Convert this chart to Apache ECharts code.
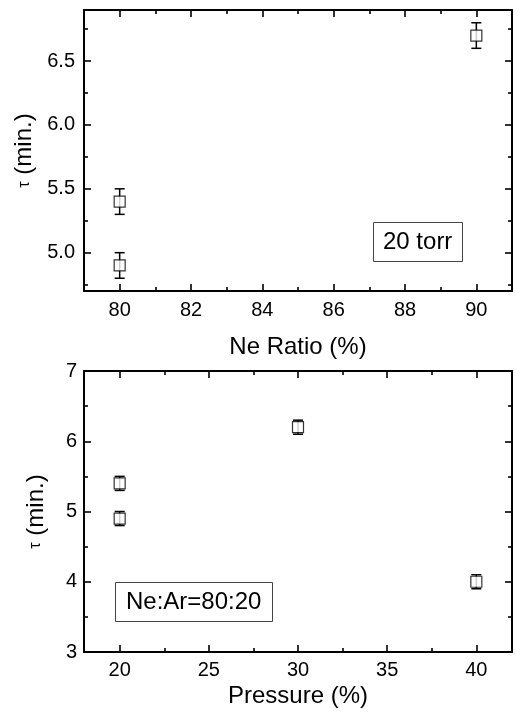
<!DOCTYPE html>
<html>
<head>
<meta charset="utf-8">
<script src="https://cdn.jsdelivr.net/npm/echarts@6/dist/echarts.min.js"></script>
<style>
html, body { margin: 0; padding: 0; background: #fff; }
#show_charts { width: 515px; height: 718px; }
</style>
</head>
<body>
<div id="show_charts"></div>
<script>
// top panel: tau vs Ne ratio (20 torr)
var neRatio = [80, 80, 90];
var tauNe = [5.4, 4.9, 6.7];
var errNe = [0.1, 0.1, 0.1];
var neTicks = [80, 82, 84, 86, 88, 90];
var neMinor = [81, 83, 85, 87, 89];
var tauNeTicks = [5.0, 5.5, 6.0, 6.5];
var tauNeMinor = [4.75, 5.25, 5.75, 6.25, 6.75];

// bottom panel: tau vs pressure (Ne:Ar=80:20)
var pressure = [20, 20, 30, 40];
var tauP = [5.4, 4.9, 6.2, 4.0];
var errP = [0.1, 0.1, 0.1, 0.1];
var pTicks = [20, 25, 30, 35, 40];
var pMinor = [22.5, 27.5, 32.5, 37.5];
var tauPTicks = [3, 4, 5, 6, 7];
var tauPMinor = [3.5, 4.5, 5.5, 6.5];

var font = '"Liberation Sans", Arial, sans-serif';
var lineStyle = { color: '#000', width: 2 };

function makeAxis(grid, pos, min, max, ticks, len, opts) {
    var ax = {
        type: 'value',
        gridIndex: grid,
        position: pos,
        min: min,
        max: max,
        splitLine: { show: false },
        axisLine: { show: !opts.minor, onZero: false, lineStyle: lineStyle },
        axisTick: { show: true, inside: true, length: len, customValues: ticks, lineStyle: { color: '#000', width: 1.6 } },
        axisLabel: { show: false }
    };
    if (opts.labels) {
        ax.axisLabel = {
            show: true,
            customValues: ticks,
            fontSize: 20,
            fontFamily: font,
            color: '#000',
            margin: opts.margin || 8,
            formatter: opts.fmt
        };
    }
    if (opts.name) {
        ax.name = opts.name;
        ax.nameLocation = 'middle';
        ax.nameGap = opts.nameGap;
        ax.nameTextStyle = {
            fontSize: 24, fontFamily: font, color: '#000',
            rich: { t: { fontSize: 16, fontFamily: font, color: '#000' } }
        };
    }
    return ax;
}

function errBars(params, api) {
    var x = api.value(0), y = api.value(1), e = api.value(2);
    var hi = api.coord([x, y + e]);
    var lo = api.coord([x, y - e]);
    var w = 5;
    var st = { stroke: '#000', lineWidth: 1.5 };
    return {
        type: 'group',
        children: [
            { type: 'line', shape: { x1: hi[0], y1: hi[1], x2: lo[0], y2: lo[1] }, style: st },
            { type: 'line', shape: { x1: hi[0] - w, y1: hi[1], x2: hi[0] + w, y2: hi[1] }, style: st },
            { type: 'line', shape: { x1: lo[0] - w, y1: lo[1], x2: lo[0] + w, y2: lo[1] }, style: st }
        ]
    };
}

var xAxes = [
    makeAxis(0, 'bottom', 79, 91, neTicks, 7, { labels: true, margin: 9, name: 'Ne Ratio (%)', nameGap: 44 }),
    makeAxis(0, 'top', 79, 91, neTicks, 7, {}),
    makeAxis(0, 'bottom', 79, 91, neMinor, 4, { minor: true }),
    makeAxis(0, 'top', 79, 91, neMinor, 4, { minor: true }),
    makeAxis(1, 'bottom', 18, 42, pTicks, 7, { labels: true, margin: 8, name: 'Pressure (%)', nameGap: 32 }),
    makeAxis(1, 'top', 18, 42, pTicks, 7, {}),
    makeAxis(1, 'bottom', 18, 42, pMinor, 4, { minor: true }),
    makeAxis(1, 'top', 18, 42, pMinor, 4, { minor: true })
];
var yAxes = [
    makeAxis(0, 'left', 4.7, 6.9, tauNeTicks, 7, { labels: true, margin: 9, fmt: function (v) { return v.toFixed(1); }, name: '{t|τ} (min.)', nameGap: 46 }),
    makeAxis(0, 'right', 4.7, 6.9, tauNeTicks, 7, {}),
    makeAxis(0, 'left', 4.7, 6.9, tauNeMinor, 4, { minor: true }),
    makeAxis(0, 'right', 4.7, 6.9, tauNeMinor, 4, { minor: true }),
    makeAxis(1, 'left', 3, 7, tauPTicks, 7, { labels: true, margin: 7, name: '{t|τ} (min.)', nameGap: 36 }),
    makeAxis(1, 'right', 3, 7, tauPTicks, 7, {}),
    makeAxis(1, 'left', 3, 7, tauPMinor, 4, { minor: true }),
    makeAxis(1, 'right', 3, 7, tauPMinor, 4, { minor: true })
];

var markStyle = { color: '#fff', borderColor: '#000', borderWidth: 1.2 };

var myChart = echarts.init(document.getElementById('show_charts'));
var option = {
    animation: false,
    backgroundColor: '#fff',
    title: [
        {
            text: '20 torr', left: 373, top: 222,
            padding: [8, 10], borderColor: '#444', borderWidth: 1,
            textStyle: { fontSize: 24, fontWeight: 'normal', fontFamily: font, color: '#000' }
        },
        {
            text: 'Ne:Ar=80:20', left: 115, top: 582,
            padding: [8, 11], borderColor: '#444', borderWidth: 1,
            textStyle: { fontSize: 24, fontWeight: 'normal', fontFamily: font, color: '#000' }
        }
    ],
    grid: [
        { left: 84, top: 10, width: 428, height: 281 },
        { left: 84, top: 371, width: 428, height: 281 }
    ],
    xAxis: xAxes,
    yAxis: yAxes,
    series: [
        {
            type: 'custom', xAxisIndex: 0, yAxisIndex: 0, z: 2,
            renderItem: errBars, encode: { x: 0, y: 1 },
            data: neRatio.map(function (x, i) { return [x, tauNe[i], errNe[i]]; })
        },
        {
            type: 'scatter', xAxisIndex: 0, yAxisIndex: 0, z: 3,
            symbol: 'rect', symbolSize: 11, itemStyle: markStyle,
            data: neRatio.map(function (x, i) { return [x, tauNe[i]]; })
        },
        {
            type: 'custom', xAxisIndex: 4, yAxisIndex: 4, z: 2,
            renderItem: errBars, encode: { x: 0, y: 1 },
            data: pressure.map(function (x, i) { return [x, tauP[i], errP[i]]; })
        },
        {
            type: 'scatter', xAxisIndex: 4, yAxisIndex: 4, z: 3,
            symbol: 'rect', symbolSize: 11, itemStyle: markStyle,
            data: pressure.map(function (x, i) { return [x, tauP[i]]; })
        }
    ]
};
myChart.setOption(option);
</script>
</body>
</html>
